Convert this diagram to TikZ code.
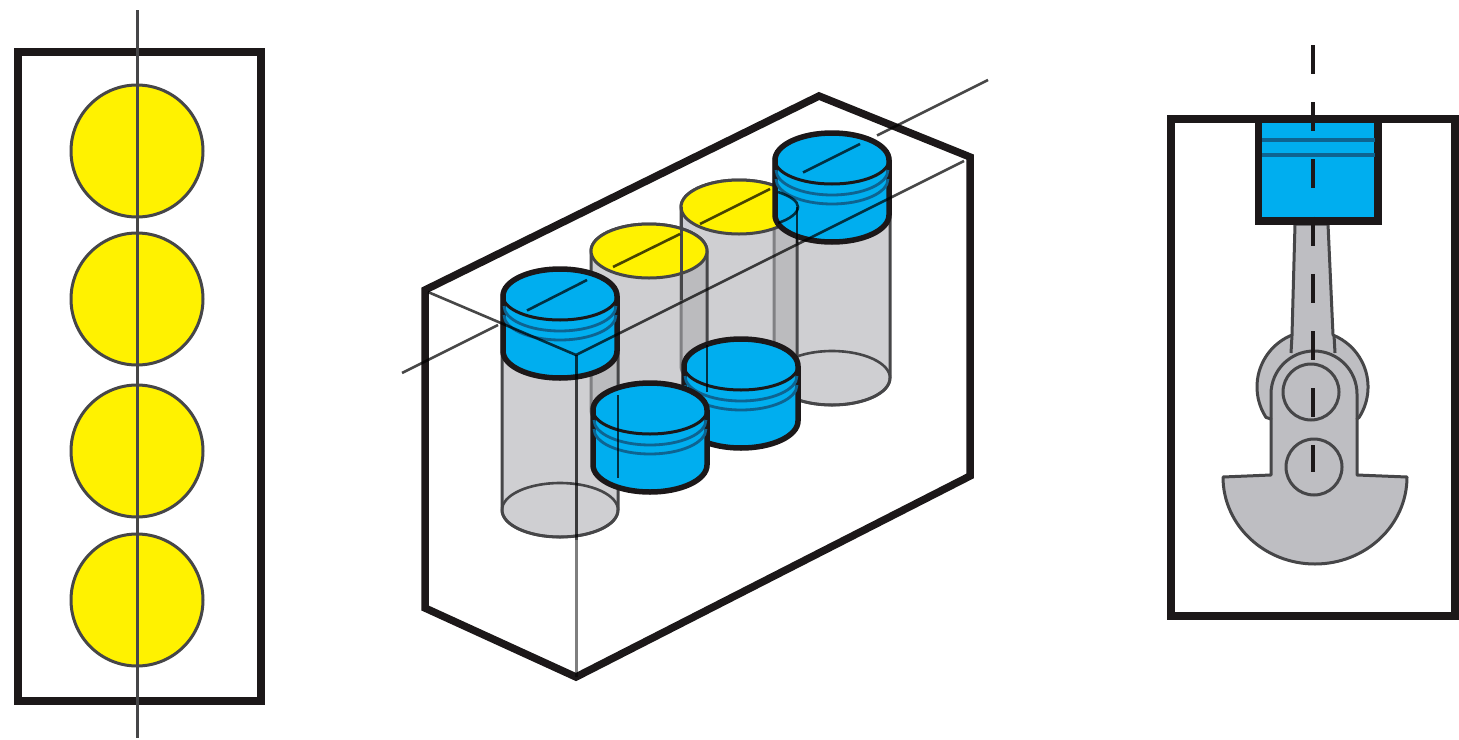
\documentclass[tikz,border=0pt]{standalone}
\definecolor{cblue}{RGB}{0,174,239}
\definecolor{cyel}{RGB}{255,242,0}
\definecolor{ink}{RGB}{28,24,25}
\definecolor{edge}{RGB}{70,70,72}
\definecolor{ring}{RGB}{14,100,145}
\definecolor{crank}{RGB}{190,190,194}
\tikzset{
  heavy/.style={draw=ink,line width=7.5pt,line join=miter},
  thin axis/.style={draw=black,draw opacity=.72,line width=2.6pt},
  glass/.style={fill={rgb,255:red,172;green,172;blue,176},fill opacity=.57,draw=edge,line width=3pt},
  pistonside/.style={fill=cblue,draw=ink,line width=5.5pt},
  ringline/.style={draw=ring,line width=2.8pt},
  yellowtop/.style={fill=cyel,draw=edge,line width=3pt},
  crankpart/.style={fill=crank,draw=edge,line width=3pt,line join=round},
}
% glass cylinder: cx, top centre y, bottom centre y
\newcommand{\glasscyl}[3]{%
  \path[glass] (#1-58,#2) -- (#1-58,#3) arc[start angle=180,end angle=0,x radius=58pt,y radius=27pt]
     -- (#1+58,#2) arc[start angle=0,end angle=-180,x radius=58pt,y radius=27pt] -- cycle;}
% piston: cx, top centre y
\newcommand{\bluepiston}[2]{%
  \path[pistonside] (#1-57,#2) -- (#1-57,#2+55) arc[start angle=180,end angle=0,x radius=57pt,y radius=27pt]
     -- (#1+57,#2) arc[start angle=0,end angle=-180,x radius=57pt,y radius=27pt] -- cycle;
  \draw[ringline] (#1-56,#2+10) arc[start angle=180,end angle=0,x radius=56pt,y radius=25pt];
  \draw[ringline] (#1-56,#2+19) arc[start angle=180,end angle=0,x radius=56pt,y radius=25pt];
  \draw[draw=ink,line width=3pt] (#1-57,#2) arc[start angle=180,end angle=0,x radius=57pt,y radius=24pt];}
\begin{document}
\begin{tikzpicture}[x=1pt,y=1pt,yscale=-1]
\useasboundingbox (0,0) rectangle (1459,739);
\fill[white] (0,0) rectangle (1459,739);

% ---------- left view
\draw[heavy] (18,52) rectangle (261,701);
\foreach \yy in {151,299,451,600}
  \draw[fill=cyel,draw=edge,line width=3pt] (137,\yy) circle[radius=66pt];
\coordinate (lt) at (137,10);
\coordinate (lb) at (137,738);
\draw[draw=edge,line width=3pt] (lt) -- (lb);

% ---------- block
\coordinate (bA) at (425,290);
\coordinate (bB) at (819,96);
\coordinate (bC) at (970,157);
\coordinate (bD) at (970,476);
\coordinate (bE) at (576,677);
\coordinate (bF) at (425,608);
\coordinate (bV) at (576,355);
\draw[heavy] (bA) -- (bB) -- (bC) -- (bD) -- (bE) -- (bF) -- cycle;

% glass cylinders, back to front
\glasscyl{832}{160}{378}
\glasscyl{739}{207}{366}
\glasscyl{649}{251}{410}
\glasscyl{560}{297}{510}
\draw[draw=edge,line width=2.6pt] (832,378) ellipse[x radius=58pt,y radius=27pt];
\draw[draw=edge,line width=2.6pt] (560,510) ellipse[x radius=58pt,y radius=27pt];

% yellow tops
\path[yellowtop] (739,207) ellipse[x radius=58pt,y radius=27pt];
\path[yellowtop] (649,251) ellipse[x radius=58pt,y radius=27pt];
\draw[draw=edge,line width=3pt] (681,207) -- (681,300);

% pistons
\bluepiston{832}{160}
\bluepiston{741}{366}
\bluepiston{650}{410}
\bluepiston{560}{296}

% outlines seen through the pistons
\draw[thin axis] (778,192) .. controls (790,196) and (798,201) .. (798,207) .. controls (798,213) and (790,219) .. (778,223);
\draw[thin axis] (797,207) -- (797,243);
\draw[thin axis] (618,395) -- (618,478);
\draw[thin axis] (707,345) -- (707,392);

% crankshaft axis
\coordinate (ax0) at (402,373);
\coordinate (ax1) at (498,325);
\coordinate (ax2) at (527,310.5);
\coordinate (ax3) at (587,280);
\coordinate (ax4) at (613,267);
\coordinate (ax5) at (680,234);
\coordinate (ax6) at (700,224);
\coordinate (ax7) at (770,189);
\coordinate (ax8) at (803,172.5);
\coordinate (ax9) at (860,144);
\coordinate (ax10) at (877,135.5);
\coordinate (ax11) at (988,80);
\draw[thin axis] (ax0) -- (ax1) (ax2) -- (ax3) (ax4) -- (ax5) (ax6) -- (ax7) (ax8) -- (ax9) (ax10) -- (ax11);

% front edges of the block
\coordinate (bVr) at (964,161);
\coordinate (bAi) at (428,292);
\draw[thin axis] (bAi) -- (bV) -- (bVr);
\draw[thin axis,line width=3pt] (bV) -- (576,540);
\draw[draw=black,draw opacity=.5,line width=3pt] (576,540) -- (bE);

% ---------- right view
\draw[heavy] (1171,119) rectangle (1455,616);

% connecting rod and crank
\path[crankpart] (1295,224) -- (1292,335) arc[start angle=248,end angle=147,radius=56pt]
   -- (1271,419) -- (1271,475) -- (1223,477)
   arc[start angle=180,end angle=0,x radius=92pt,y radius=87pt] -- (1357,475) -- (1357,419) -- (1359,417.5)
   arc[start angle=33,end angle=-68,radius=56pt] -- (1328,224) -- cycle;
\draw[crankpart,fill=none] (1292,335) -- (1291,353) (1334,335) -- (1335,353);
\draw[crankpart,fill=none] (1271,419) -- (1271,394) arc[start angle=180,end angle=360,radius=43pt] -- (1357,419);
\draw[crankpart] (1311,392) circle[radius=28pt];
\draw[crankpart] (1314,467) circle[radius=28pt];

% piston
\path[fill=cblue,draw=ink,line width=7.5pt,line join=miter] (1258.5,119) rectangle (1378,221);
\draw[draw=ring,line width=3.5pt] (1262,140) -- (1374.5,140) (1262,155) -- (1374.5,155);
\coordinate (rt) at (1313,45);
\coordinate (rb) at (1313,472);
\draw[draw=ink,line width=3.4pt,dash pattern=on 29pt off 28.2pt] (rt) -- (rb);
\end{tikzpicture}
\end{document}
